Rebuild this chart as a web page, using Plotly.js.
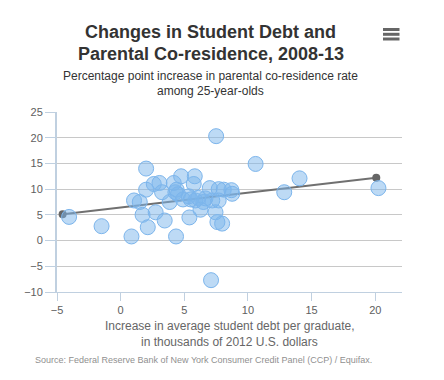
<!DOCTYPE html>
<html>
<head>
<meta charset="utf-8">
<script src="https://cdn.plot.ly/plotly-3.0.1.min.js"></script>
<style>html,body{margin:0;padding:0;background:#fff;}#chart{width:444px;height:380px;}</style>
</head>
<body>
<div id="chart"></div>
<script>
// Increase in average student debt per graduate (thousands of 2012 USD)
var debtIncrease = [-4.05, -1.5, 0.85, 2.0, 1.05, 1.5, 1.72, 2.13, 2.0, 2.6,
  3.05, 3.25, 2.75, 3.46, 3.85, 4.17, 4.3, 4.4, 4.5, 4.35,
  4.75, 5.82, 5.74, 5.4, 5.35, 5.5, 5.87, 6.27, 6.66, 7.0,
  7.2, 7.7, 8.1, 7.7, 8.7, 8.76, 7.45, 7.6, 7.97, 7.5,
  7.1, 10.6, 12.85, 14.05, 20.25, 6.1, 4.9, 6.5];
// Percentage point increase in parental co-residence rate
var coresIncrease = [4.6, 2.8, 0.8, 14.0, 7.8, 7.5, 5.0, 2.6, 9.9, 11.0,
  11.2, 9.4, 5.5, 3.9, 7.5, 11.2, 9.4, 9.9, 9.0, 0.8,
  12.5, 12.5, 11.0, 4.5, 8.6, 8.0, 7.8, 6.0, 8.2, 10.2,
  7.8, 10.0, 9.9, 7.8, 9.8, 9.1, 5.5, 3.6, 3.3, 20.3,
  -7.7, 14.9, 9.4, 12.1, 10.2, 8.3, 8.0, 7.5];
// Trend line end points
var fitX = [-4.56, 20.08];
var fitY = [5.1, 12.2];
var yTicks = [-10, -5, 0, 5, 10, 15, 20, 25];
var xTicks = [-5, 0, 5, 10, 15, 20];

var traces = [
  {
    x: fitX, y: fitY, type: 'scatter', mode: 'lines+markers',
    line: {color: '#707070', width: 2},
    marker: {color: '#666666', size: 8},
    hoverinfo: 'none', showlegend: false
  },
  {
    x: debtIncrease, y: coresIncrease, type: 'scatter', mode: 'markers',
    marker: {size: 15, color: 'rgba(124,181,236,0.5)', line: {color: '#7cb5ec', width: 1}},
    showlegend: false
  }
];

var font = 'Liberation Sans, Arial, Helvetica, sans-serif';
var plotL = 57, plotR = 42, plotT = 112, plotB = 88;
var W = 444, H = 380;
var pw = W - plotL - plotR, ph = H - plotT - plotB;
function px(x){ return (x - plotL) / pw; }
function py(y){ return (H - plotB - y) / ph; }

function ann(text, x, y, size, color, bold, xanchor){
  return {text: bold ? '<b>' + text + '</b>' : text, xref: 'paper', yref: 'paper',
    x: px(x), y: py(y), xanchor: xanchor || 'center', yanchor: 'middle',
    showarrow: false, font: {family: font, size: size, color: color}};
}

var menuShapes = [29.5, 34.3, 39].map(function(yy){
  return {type: 'line', xref: 'paper', yref: 'paper', x0: px(383), x1: px(399.5), y0: py(yy), y1: py(yy),
    line: {color: '#666666', width: 3}};
});

var layout = {
  width: W, height: H,
  margin: {l: plotL, r: plotR, t: plotT, b: plotB, pad: 0},
  paper_bgcolor: '#ffffff', plot_bgcolor: '#ffffff',
  font: {family: font, size: 11, color: '#606060'},
  xaxis: {
    range: [-5, 22.1], tickvals: xTicks, showgrid: false, zeroline: false,
    showline: true, linecolor: '#C0D0E0', linewidth: 1,
    ticks: 'outside', ticklen: 8, tickcolor: '#C0D0E0', tickwidth: 1,
    tickfont: {family: font, size: 11, color: '#606060'}
  },
  yaxis: {
    range: [-10, 25], tickvals: yTicks, showgrid: true, gridcolor: '#C8C8C8', gridwidth: 1,
    zeroline: false, showline: true, linecolor: '#C0D0E0', linewidth: 2,
    ticks: 'outside', ticklen: 10, tickcolor: '#C0D0E0', tickwidth: 1,
    tickfont: {family: font, size: 11, color: '#606060'}
  },
  annotations: [
    ann('Changes in Student Debt and', 210.5, 32, 18, '#333333', true),
    ann('Parental Co-residence, 2008-13', 210.5, 54, 18, '#333333', true),
    ann('Percentage point increase in parental co-residence rate', 210.5, 76, 12, '#333333', false),
    ann('among 25-year-olds', 210.5, 90.7, 12, '#333333', false),
    ann('Increase in average student debt per graduate,', 229.5, 325.7, 12, '#666666', false),
    ann('in thousands of 2012 U.S. dollars', 229.5, 341.7, 12, '#666666', false),
    ann('Source: Federal Reserve Bank of New York Consumer Credit Panel (CCP) / Equifax.', 33, 360, 9, '#909090', false, 'left')
  ],
  shapes: menuShapes,
  hovermode: false
};

Plotly.newPlot('chart', traces, layout, {displayModeBar: false, staticPlot: true});
</script>
</body>
</html>
